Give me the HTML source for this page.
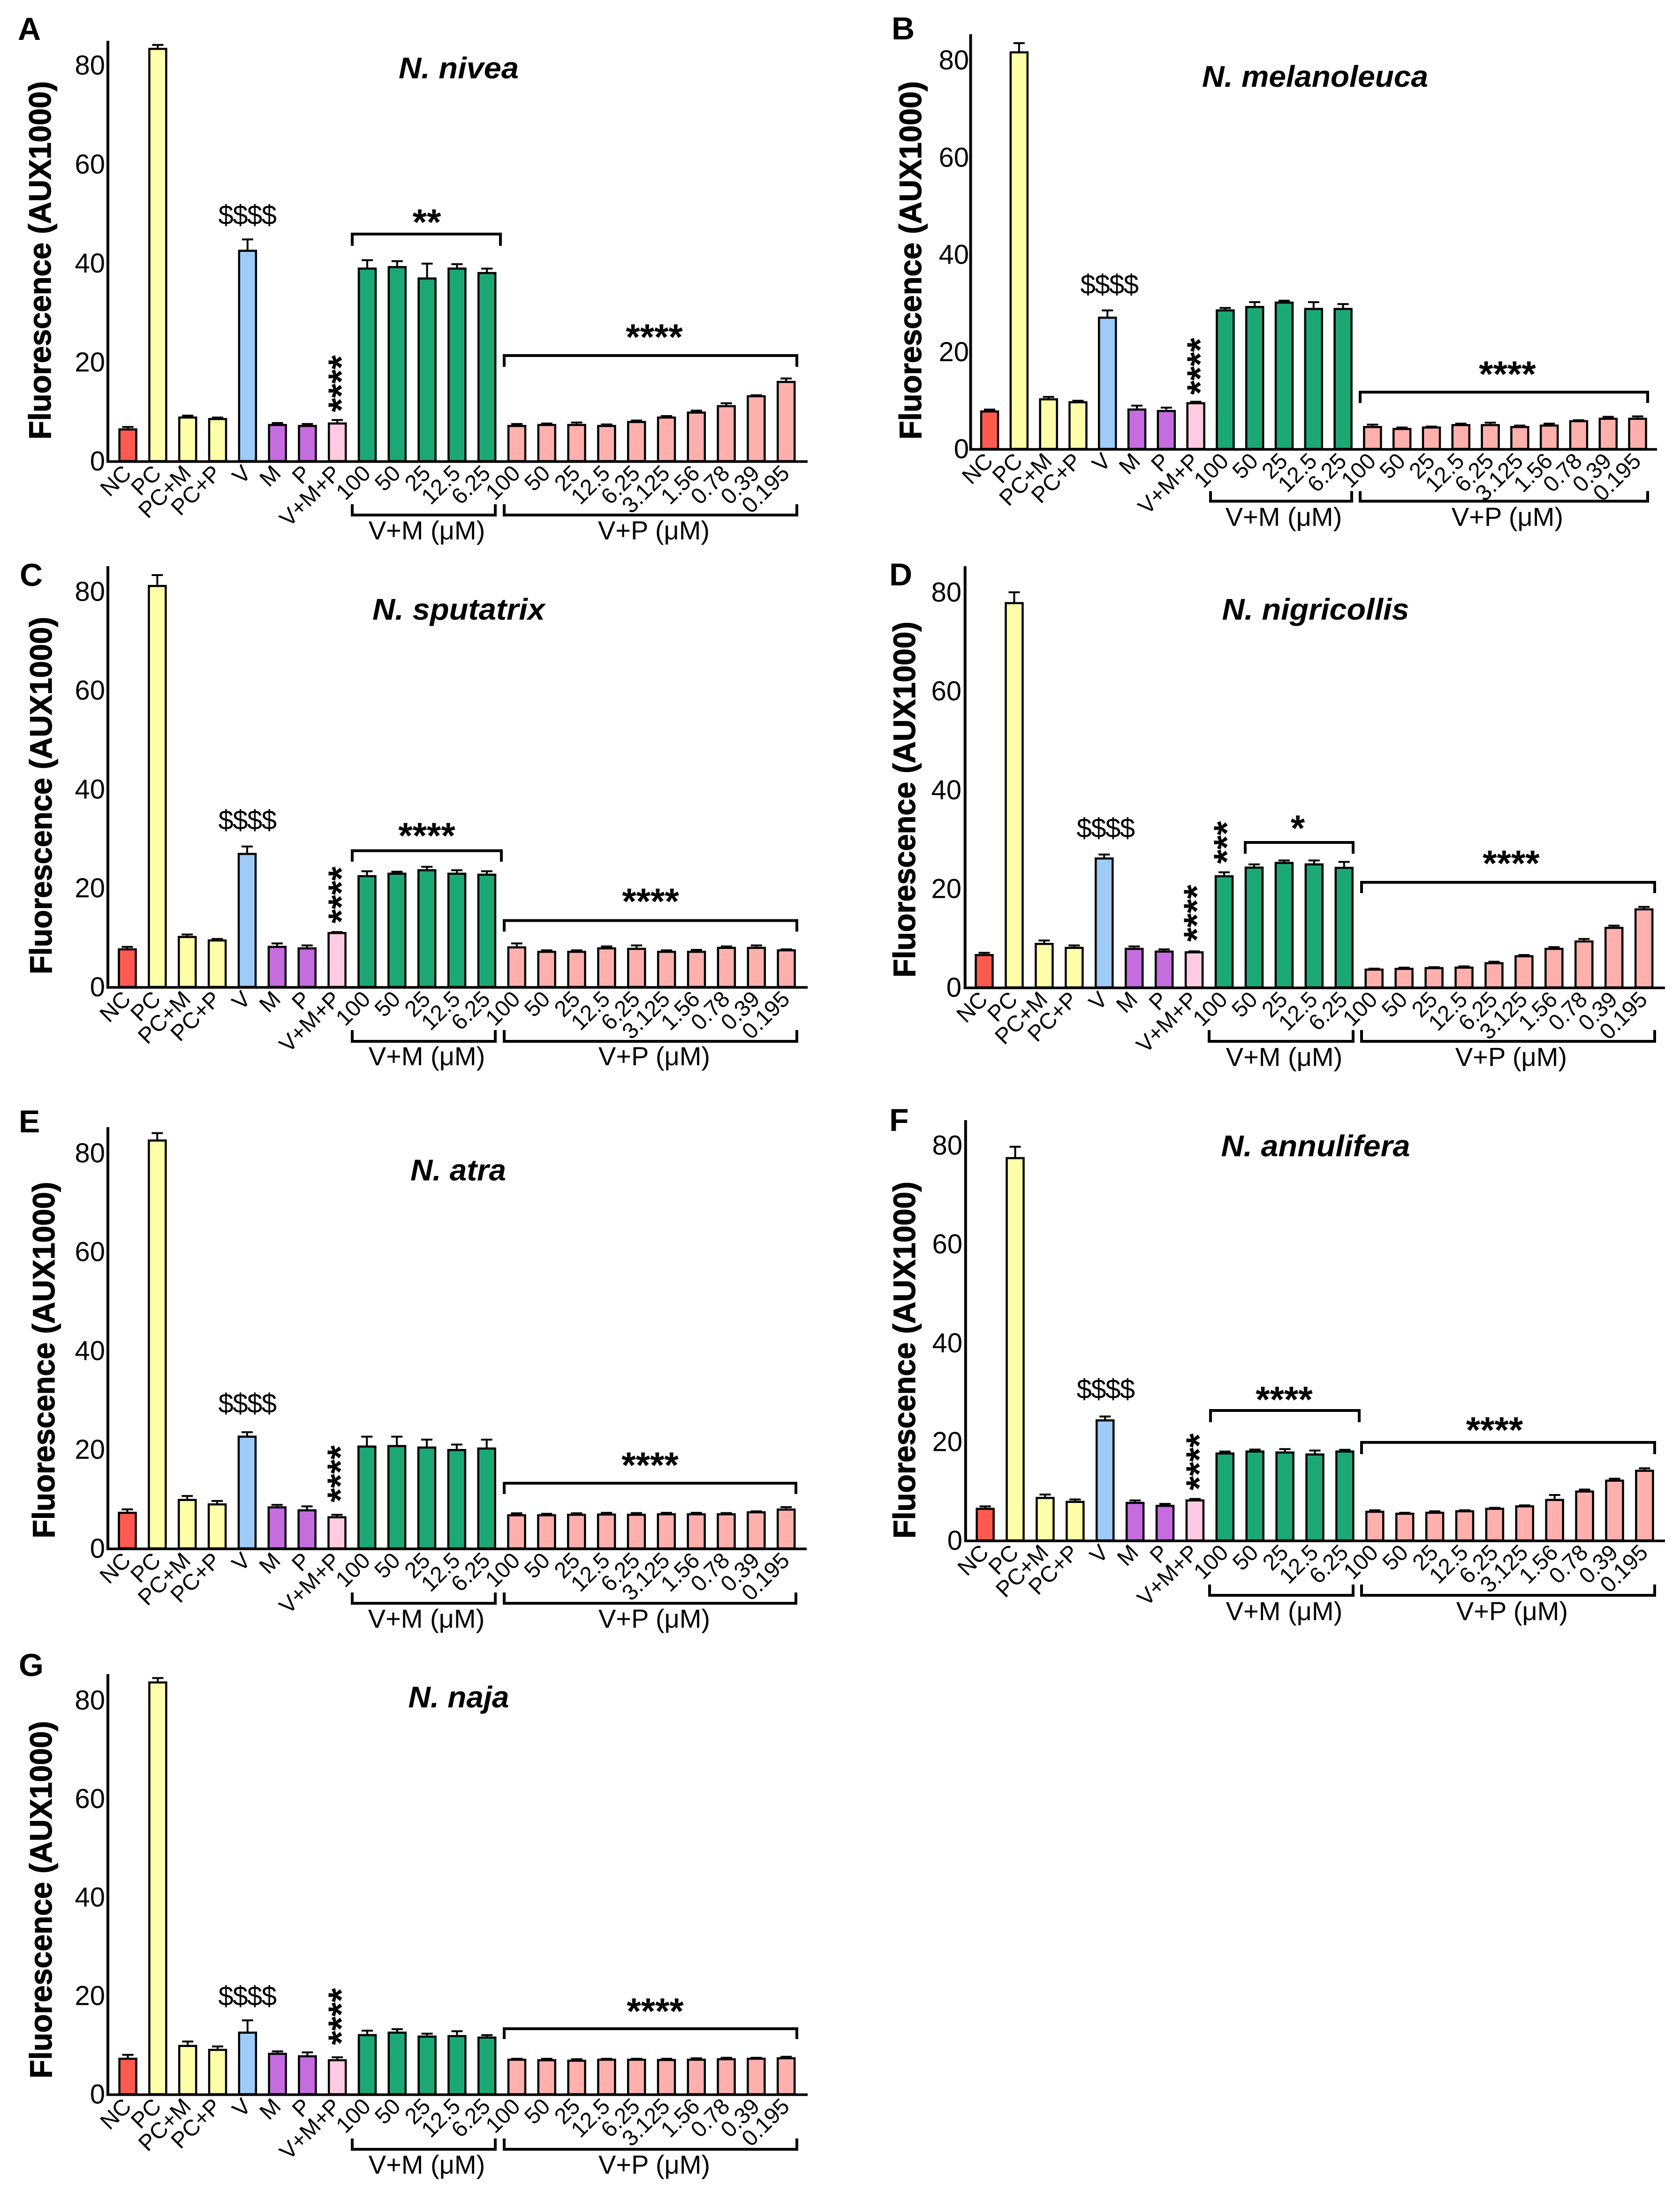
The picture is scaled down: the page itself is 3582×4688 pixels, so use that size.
<!DOCTYPE html>
<html lang="en">
<head>
<meta charset="utf-8">
<title>Fluorescence of Naja venoms</title>
<style>
html,body{margin:0;padding:0;background:#fff;}
svg{display:block;}
text{font-family:"Liberation Sans",sans-serif;fill:#000;}
</style>
</head>
<body>
<svg id="fig" xmlns="http://www.w3.org/2000/svg" width="3582" height="4688" viewBox="0 0 3582 4688"></svg>
<script>
const categories = ["NC","PC","PC+M","PC+P","V","M","P","V+M+P","100","50","25","12.5","6.25","100","50","25","12.5","6.25","3.125","1.56","0.78","0.39","0.195"];
const yTicks = [0,20,40,60,80];

const valuesA = [6.4,83.3,8.8,8.5,42.5,7.3,7.1,7.6,38.9,39.2,36.9,38.9,38,7.1,7.3,7.3,7.1,7.9,8.8,9.8,11.1,13.1,16];
const errorsA = [.5,.8,.4,.3,2.3,.4,.4,.7,1.7,1.2,3,.9,.9,.4,.3,.5,.3,.3,.3,.4,.6,.2,.7];
const valuesB = [7.7,81.6,10.2,9.6,27,8.1,7.8,9.4,28.5,29.2,30.1,28.8,28.8,4.5,4.1,4.4,4.9,4.9,4.5,4.8,5.7,6.2,6.2];
const errorsB = [.4,1.9,.5,.3,1.5,.8,.7,.3,.5,1,.4,1.4,1,.5,.3,.2,.3,.5,.3,.4,.2,.4,.5];
const valuesC = [7.6,81.1,10.1,9.4,26.9,8.1,7.8,10.9,22.4,22.9,23.6,22.9,22.7,8,7.1,7.1,7.8,7.7,7.1,7.1,7.9,7.9,7.4];
const errorsC = [.5,2.2,.5,.3,1.5,.7,.6,.2,1,.4,.7,.7,.7,.8,.3,.3,.4,.7,.3,.4,.3,.5,.2];
const valuesD = [6.55,77.8,8.8,8,26.1,7.8,7.25,7.1,22.5,24.25,25.2,24.9,24.2,3.6,3.75,3.9,4,4.9,6.3,7.8,9.3,12.05,15.8];
const errorsD = [.45,2.2,.7,.5,.8,.5,.45,.2,.8,.65,.5,.8,1.2,.2,.25,.2,.25,.3,.25,.35,.5,.45,.5];
const valuesE = [7.2,82.5,9.8,8.9,22.6,8.3,7.7,6.3,20.6,20.7,20.4,19.9,20.2,6.7,6.7,6.8,6.85,6.8,6.9,6.9,6.9,7.3,7.85];
const errorsE = [.7,1.5,.8,.7,.9,.5,.8,.5,2,1.9,1.6,1.1,1.8,.4,.3,.3,.35,.35,.3,.3,.25,.2,.5];
const valuesF = [6.4,77.4,8.6,7.8,24.3,7.6,7,8.1,17.6,18,17.8,17.4,18,5.8,5.4,5.6,5.9,6.4,6.9,8.2,9.9,12.1,14.1];
const errorsF = [.5,2.3,.7,.5,.8,.5,.4,.3,.4,.4,.7,.8,.35,.3,.2,.3,.2,.2,.2,1,.4,.4,.5];
const valuesG = [7.2,83.6,9.8,9,12.5,8.2,7.7,6.9,12,12.5,11.7,11.8,11.5,7,6.9,6.8,7,7,6.95,7,7.1,7.2,7.3];
const errorsG = [.8,.9,.9,.7,2.5,.5,.8,.6,.9,.7,.6,1,.5,.2,.3,.3,.2,.2,.25,.3,.3,.2,.3];

const NS = "http://www.w3.org/2000/svg";
const svg = document.getElementById("fig");

function mk(tag, attrs, parent, text) {
  const n = document.createElementNS(NS, tag);
  for (const k in attrs) n.setAttribute(k, attrs[k]);
  if (text !== undefined) n.textContent = text;
  parent.appendChild(n);
  return n;
}

function barColor(i) {
  if (i === 0) return "#FF5A50";
  if (i >= 1 && i <= 3) return "#FFFFAA";
  if (i === 4) return "#9FCBF8";
  if (i === 5 || i === 6) return "#C56CDF";
  if (i === 7) return "#FFCBE2";
  if (i >= 8 && i <= 12) return "#1CA875";
  return "#FFB0AC";
}

const panels = [
 {id:"A",values:valuesA,errors:errorsA,title:"N. nivea",axisX:230,c0:272.6,pitch:63.8,xEnd:1722,top:87,base:983,scale:10.55,tickRight:224,
  letter:[38,85],titleAt:[978,167,256],yTitle:[108,937,764],dollar:[527,458],vmpStars:[720,818],
  upper:[{n:"vm",x1:751,x2:1067,y:499,t:524,lab:"**",lx:910,ly:466},{n:"vp",x1:1075,x2:1699,y:758,t:782,lab:"****",lx:1395,ly:711}],
  lower:{x1:751,x2:1056,x3:1075,x4:1699,y:1098,t:1075,by:1150,lx1:910,lx2:1394}},
 {id:"B",values:valuesB,errors:errorsB,title:"N. melanoleuca",axisX:2069.5,c0:2110,pitch:62.8,xEnd:3533,top:73,base:957,scale:10.36,tickRight:2066,
  letter:[1901,84],titleAt:[2804,185,482],yTitle:[1964,937,764],dollar:[2365,606],vmpStars:[2551,781],
  upper:[{n:"vp",x1:2900,x2:3513,y:836,t:859,lab:"****",lx:3214,ly:790}],
  lower:{x1:2581,x2:2882,x3:2900,x4:3513,y:1068.5,t:1047,by:1121,lx1:2737,lx2:3214}},
 {id:"C",values:valuesC,errors:errorsC,title:"N. sputatrix",axisX:230,c0:271.5,pitch:63.87,xEnd:1722,top:1207,base:2104,scale:10.54,tickRight:224,
  letter:[42,1249],titleAt:[978,1321,368],yTitle:[110,2077,762],dollar:[527,1748],vmpStars:[720,1908],
  upper:[{n:"vm",x1:751,x2:1069,y:1813.6,t:1837,lab:"****",lx:910,ly:1774},{n:"vp",x1:1075,x2:1699,y:1962.5,t:1986,lab:"****",lx:1387,ly:1914}],
  lower:{x1:751,x2:1056,x3:1075,x4:1699,y:2220,t:2196,by:2271,lx1:910,lx2:1395}},
 {id:"D",values:valuesD,errors:errorsD,title:"N. nigricollis",axisX:2057.7,c0:2098.5,pitch:63.94,xEnd:3550,top:1207,base:2105,scale:10.53,tickRight:2050,
  letter:[1896,1248],titleAt:[2805,1321,399],yTitle:[1951,2084,759],dollar:[2357,1765],vmpStars:[2544,1947],
  extraVertical:{x:2608,y:1796,lab:"***"},
  upper:[{n:"vm",x1:2655,x2:2885,y:1796,t:1820,lab:"*",lx:2767,ly:1758},{n:"vp",x1:2903,x2:3528,y:1881,t:1904,lab:"****",lx:3222,ly:1833}],
  lower:{x1:2578,x2:2885,x3:2903,x4:3528,y:2220,t:2196,by:2272.6,lx1:2738,lx2:3222}},
 {id:"E",values:valuesE,errors:errorsE,title:"N. atra",axisX:230,c0:271.5,pitch:63.85,xEnd:1720,top:2403,base:3301,scale:10.54,tickRight:224,
  letter:[40,2414],titleAt:[977,2516.5,204],yTitle:[116,3279.5,760],dollar:[527,2991.5],vmpStars:[718,3142],
  upper:[{n:"vp",x1:1075,x2:1697,y:3162,t:3185,lab:"****",lx:1386,ly:3116}],
  lower:{x1:751,x2:1056,x3:1075,x4:1697,y:3418,t:3395,by:3470,lx1:909,lx2:1395}},
 {id:"F",values:valuesF,errors:errorsF,title:"N. annulifera",axisX:2058.8,c0:2100.6,pitch:63.9,xEnd:3550,top:2388,base:3284,scale:10.53,tickRight:2052,
  letter:[1896,2411],titleAt:[2805,2465,403],yTitle:[1951,3280,761],dollar:[2357,2961],vmpStars:[2549,3116.5],
  upper:[{n:"vm",x1:2581,x2:2898,y:3007,t:3032,lab:"****",lx:2738,ly:2976},{n:"vp",x1:2903,x2:3528,y:3075,t:3100,lab:"****",lx:3186.5,ly:3041}],
  lower:{x1:2579,x2:2885,x3:2903,x4:3528,y:3401,t:3378,by:3454,lx1:2738,lx2:3224}},
 {id:"G",values:valuesG,errors:errorsG,title:"N. naja",axisX:230,c0:272.6,pitch:63.8,xEnd:1722,top:3569,base:4464.6,scale:10.5,tickRight:224,
  letter:[40,3573],titleAt:[978,3640,215],yTitle:[110,4431,762],dollar:[527,4255],vmpStars:[720,4299],
  upper:[{n:"vp",x1:1075,x2:1699,y:4325,t:4347,lab:"****",lx:1397,ly:4280}],
  lower:{x1:751,x2:1056,x3:1075,x4:1699,y:4582,t:4559,by:4634,lx1:910,lx2:1395}}
];

const STAR = 78;
const STAR_DROP = 34;
const STROKE = 4.5;
const BRACKET = 6;

function bracketDown(x1, x2, y, t, parent) {
  return mk("path", {d:`M${x1} ${t}V${y}H${x2}V${t}`, fill:"none", stroke:"#000", "stroke-width":BRACKET}, parent);
}

function horizontalStars(cx, cy, s, parent) {
  return mk("text", {x:cx, y:cy + STAR_DROP, "text-anchor":"middle", "font-size":STAR, "font-weight":"bold"}, parent, s);
}

function verticalStars(cx, cy, s, parent) {
  return mk("text", {x:cx, y:cy + STAR_DROP, "text-anchor":"middle", "font-size":STAR, "font-weight":"bold", transform:`rotate(-90 ${cx} ${cy})`}, parent, s);
}

panels.forEach(function (p) {
  const xPos = function (i) { return p.c0 + i * p.pitch; };
  const yPos = function (v) { return p.base - v * p.scale; };

  const g = mk("g", {}, svg);
  
  

  const letter = mk("text", {x:p.letter[0], y:p.letter[1], "font-size":68, "font-weight":"bold"}, g, p.id);
  
  

  const title = mk("text", {x:p.titleAt[0], y:p.titleAt[1], "text-anchor":"middle", "font-size":64, "font-weight":"bold", "font-style":"italic", textLength:p.titleAt[2], lengthAdjust:"spacingAndGlyphs"}, g, p.title);
  
  

  const yTitle = mk("text", {transform:`translate(${p.yTitle[0]} ${p.yTitle[1]}) rotate(-90)`, "font-size":66, "font-weight":"bold", stroke:"#000", "stroke-width":1.2, textLength:p.yTitle[2], lengthAdjust:"spacingAndGlyphs"}, g, "Fluorescence (AUX1000)");
  
  

  yTicks.forEach(function (t) {
    const lab = mk("text", {x:p.tickRight, y:yPos(t) + 20, "text-anchor":"end", "font-size":58}, g, String(t));
    
    
  });

  p.values.forEach(function (v, i) {
    const cx = xPos(i);
    const topY = yPos(v);
    const errY = yPos(v + p.errors[i]);

    const err = mk("path", {d:`M${cx} ${topY}V${errY}M${cx-12} ${errY}H${cx+12}`, fill:"none", stroke:"#000", "stroke-width":4}, g);
    
    

    const bar = mk("rect", {x:cx-18, y:topY, width:36, height:p.base-topY, fill:barColor(i), stroke:"#000", "stroke-width":STROKE}, g);
    
    

    const ex = cx + 10;
    const ey = p.base + 29;
    const lab = mk("text", {x:ex, y:ey, "text-anchor":"end", "font-size":48, transform:`rotate(-45 ${ex} ${ey})`}, g, categories[i]);
    
    
  });

  const yAxis = mk("line", {x1:p.axisX, x2:p.axisX, y1:p.top, y2:p.base+3, stroke:"#000", "stroke-width":6}, g);
  
  

  const xAxis = mk("line", {x1:p.axisX-3, x2:p.xEnd, y1:p.base+1, y2:p.base+1, stroke:"#000", "stroke-width":5.5}, g);
  
  

  const dollar = mk("text", {x:p.dollar[0], y:p.dollar[1] + 20, "text-anchor":"middle", "font-size":58, "letter-spacing":-1.5}, g, "$$$$");
  
  

  const vStars = verticalStars(p.vmpStars[0], p.vmpStars[1], "****", g);
  
  

  if (p.extraVertical) {
    const ev = verticalStars(p.extraVertical.x, p.extraVertical.y, p.extraVertical.lab, g);
    
    
  }

  p.upper.forEach(function (u) {
    const b = bracketDown(u.x1, u.x2, u.y, u.t, g);
    
    
    const s = horizontalStars(u.lx, u.ly, u.lab, g);
    
    
  });

  const L = p.lower;
  const lb1 = bracketDown(L.x1, L.x2, L.y, L.t, g);
  
  
  const lb2 = bracketDown(L.x3, L.x4, L.y, L.t, g);
  
  

  const gl1 = mk("text", {x:L.lx1, y:L.by, "text-anchor":"middle", "font-size":56}, g, "V+M (\u03BCM)");
  
  
  const gl2 = mk("text", {x:L.lx2, y:L.by, "text-anchor":"middle", "font-size":56}, g, "V+P (\u03BCM)");
  
  
});
</script>
</body>
</html>
